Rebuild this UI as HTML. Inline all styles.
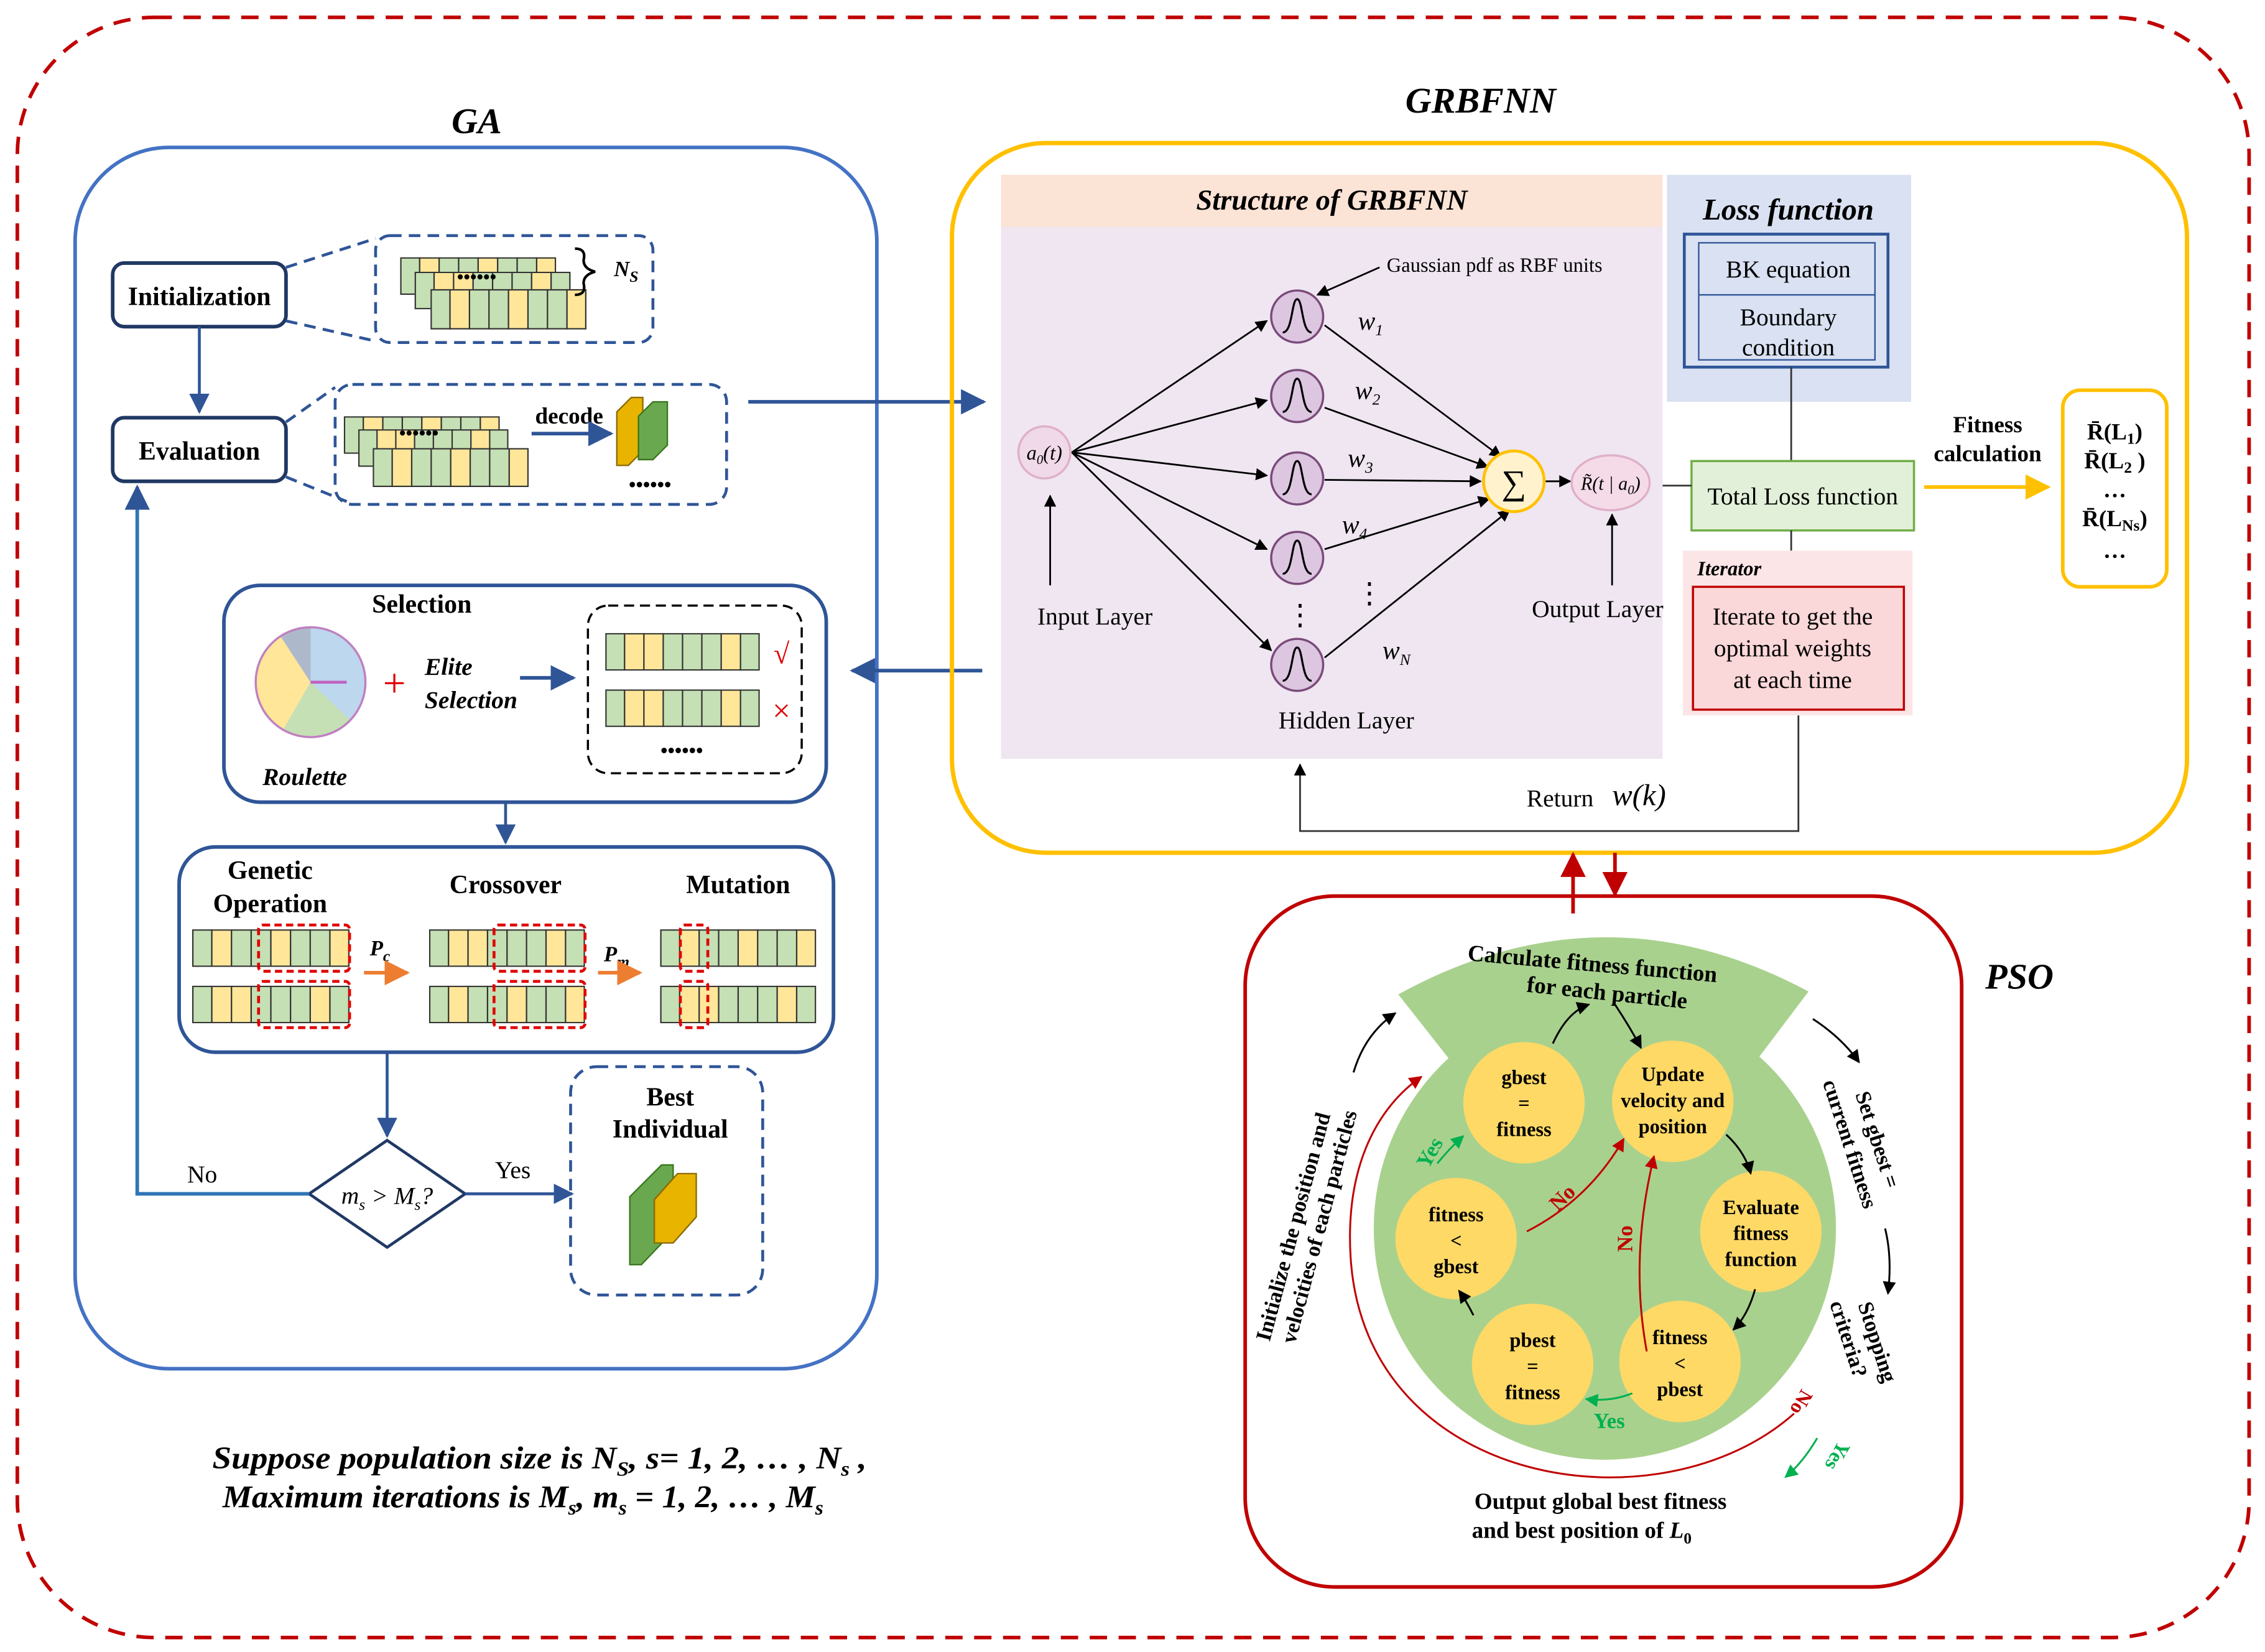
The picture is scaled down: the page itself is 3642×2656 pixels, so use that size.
<!DOCTYPE html>
<html><head><meta charset="utf-8"><style>
html,body{margin:0;padding:0;background:#fff;}
svg{display:block;}
text{font-family:"Liberation Serif",serif;}
</style></head><body>
<svg width="3642" height="2656" viewBox="0 0 1568 1143" preserveAspectRatio="none" xmlns="http://www.w3.org/2000/svg">
<defs>
<marker id="ab" viewBox="0 0 10 10" refX="9" refY="5" markerWidth="7" markerHeight="7" orient="auto"><path d="M0,0 L10,5 L0,10 z" fill="#2f5597"/></marker>
<marker id="ak" viewBox="0 0 10 10" refX="9" refY="5" markerWidth="7" markerHeight="7" orient="auto"><path d="M0,0 L10,5 L0,10 z" fill="#000"/></marker>
<marker id="ar" viewBox="0 0 10 10" refX="9" refY="5" markerWidth="7" markerHeight="7" orient="auto"><path d="M0,0 L10,5 L0,10 z" fill="#c00000"/></marker>
<marker id="ag" viewBox="0 0 10 10" refX="9" refY="5" markerWidth="7" markerHeight="7" orient="auto"><path d="M0,0 L10,5 L0,10 z" fill="#00b050"/></marker>
<marker id="ao" viewBox="0 0 10 10" refX="9" refY="5" markerWidth="7" markerHeight="7" orient="auto"><path d="M0,0 L10,5 L0,10 z" fill="#ed7d31"/></marker>
<marker id="ay" viewBox="0 0 10 10" refX="9" refY="5" markerWidth="7" markerHeight="7" orient="auto"><path d="M0,0 L10,5 L0,10 z" fill="#ffc000"/></marker>
<symbol id="st" viewBox="0 0 112 28" preserveAspectRatio="none">
<rect x="0" y="0" width="14" height="28" fill="#c5e0b4"/><rect x="14" y="0" width="14" height="28" fill="#ffe699"/>
<rect x="28" y="0" width="14" height="28" fill="#c5e0b4"/><rect x="42" y="0" width="14" height="28" fill="#c5e0b4"/>
<rect x="56" y="0" width="14" height="28" fill="#ffe699"/><rect x="70" y="0" width="14" height="28" fill="#c5e0b4"/>
<rect x="84" y="0" width="14" height="28" fill="#c5e0b4"/><rect x="98" y="0" width="14" height="28" fill="#ffe699"/>
<g stroke="#333" stroke-width="1" fill="none"><rect x="0.5" y="0.5" width="111" height="27"/>
<path d="M14,0V28M28,0V28M42,0V28M56,0V28M70,0V28M84,0V28M98,0V28"/></g>
</symbol>
<symbol id="st2" viewBox="0 0 112 28" preserveAspectRatio="none">
<rect x="0" y="0" width="14" height="28" fill="#c5e0b4"/><rect x="14" y="0" width="14" height="28" fill="#ffe699"/>
<rect x="28" y="0" width="14" height="28" fill="#ffe699"/><rect x="42" y="0" width="14" height="28" fill="#c5e0b4"/>
<rect x="56" y="0" width="14" height="28" fill="#c5e0b4"/><rect x="70" y="0" width="14" height="28" fill="#c5e0b4"/>
<rect x="84" y="0" width="14" height="28" fill="#ffe699"/><rect x="98" y="0" width="14" height="28" fill="#c5e0b4"/>
<g stroke="#333" stroke-width="1" fill="none"><rect x="0.5" y="0.5" width="111" height="27"/>
<path d="M14,0V28M28,0V28M42,0V28M56,0V28M70,0V28M84,0V28M98,0V28"/></g>
</symbol>
</defs>

<rect x="12" y="12" width="1545" height="1121" rx="95" fill="none" stroke="#c00000" stroke-width="2.5" stroke-dasharray="12,8"/>

<!-- GA -->
<text x="330" y="92" font-size="25" font-style="italic" font-weight="bold" text-anchor="middle">GA</text>
<rect x="52" y="102" width="555" height="845" rx="65" fill="none" stroke="#4472c4" stroke-width="2.5"/>

<rect x="78" y="182" width="120" height="44" rx="8" fill="#fff" stroke="#203864" stroke-width="2.5"/>
<text x="138" y="211" font-size="18" font-weight="bold" text-anchor="middle">Initialization</text>
<rect x="260" y="163" width="192" height="74" rx="10" fill="none" stroke="#2f5597" stroke-width="2" stroke-dasharray="8,5"/>
<path d="M198,185 L260,165 M198,222 L260,236" stroke="#2f5597" stroke-width="2" stroke-dasharray="8,5"/>
<use href="#st" x="277" y="178" width="108" height="26"/>
<use href="#st2" x="287" y="188" width="108" height="26"/>
<use href="#st" x="298" y="200" width="108" height="28"/>
<text x="330" y="196" font-size="13" font-weight="bold" text-anchor="middle">••••••</text>
<path d="M398,172 q8,0 6,8 q0,6 8,8 q-8,2 -8,8 q2,8 -6,8" fill="none" stroke="#000" stroke-width="1.8"/>
<text x="425" y="191" font-size="15" font-style="italic" font-weight="bold">N<tspan font-size="11" dy="4">S</tspan></text>

<line x1="138" y1="226" x2="138" y2="285" stroke="#2f5597" stroke-width="2" marker-end="url(#ab)"/>
<rect x="78" y="289" width="120" height="44" rx="8" fill="#fff" stroke="#203864" stroke-width="2.5"/>
<text x="138" y="318" font-size="18" font-weight="bold" text-anchor="middle">Evaluation</text>
<rect x="232" y="266" width="271" height="83" rx="12" fill="none" stroke="#2f5597" stroke-width="2" stroke-dasharray="8,5"/>
<path d="M198,292 L232,268 M198,330 L240,347" stroke="#2f5597" stroke-width="2" stroke-dasharray="8,5"/>
<use href="#st" x="238" y="288" width="108" height="26"/>
<use href="#st2" x="248" y="297" width="104" height="26"/>
<use href="#st" x="258" y="310" width="108" height="27"/>
<text x="290" y="304" font-size="13" font-weight="bold" text-anchor="middle">••••••</text>
<text x="394" y="293" font-size="16" font-weight="bold" text-anchor="middle">decode</text>
<line x1="368" y1="300" x2="423" y2="300" stroke="#2f5597" stroke-width="2.5" marker-end="url(#ab)"/>
<polygon points="427,285 437,275 445,275 445,312 435,322 427,322" fill="#e8b400" stroke="#8a6a00" stroke-width="1"/>
<polygon points="442,288 452,278 462,278 462,308 452,318 442,318" fill="#6aa84f" stroke="#38761d" stroke-width="1"/>
<text x="450" y="340" font-size="14" font-weight="bold" text-anchor="middle">••••••</text>

<line x1="518" y1="278" x2="681" y2="278" stroke="#2f5597" stroke-width="2.5" marker-end="url(#ab)"/>
<line x1="680" y1="464" x2="590" y2="464" stroke="#2f5597" stroke-width="2.5" marker-end="url(#ab)"/>

<rect x="155" y="405" width="417" height="150" rx="25" fill="none" stroke="#2f5597" stroke-width="2.5"/>
<text x="292" y="424" font-size="18" font-weight="bold" text-anchor="middle">Selection</text>
<circle cx="215" cy="472" r="38" fill="#bdd7ee"/>
<path d="M215,472 L194,440 A38,38 0 0 0 196,505 Z" fill="#ffe699"/>
<path d="M215,472 L196,505 A38,38 0 0 0 243,499 Z" fill="#c5e0b4"/>
<path d="M215,472 L215,434 A38,38 0 0 0 194,440 Z" fill="#adb9ca"/>
<circle cx="215" cy="472" r="38" fill="none" stroke="#c080c0" stroke-width="1.5"/>
<line x1="215" y1="472" x2="240" y2="472" stroke="#c060c0" stroke-width="2"/>
<text x="273" y="482" font-size="28" fill="#e00000" text-anchor="middle">+</text>
<text x="294" y="467" font-size="17" font-style="italic" font-weight="bold">Elite</text>
<text x="294" y="490" font-size="17" font-style="italic" font-weight="bold">Selection</text>
<line x1="360" y1="469" x2="397" y2="469" stroke="#2f5597" stroke-width="2.5" marker-end="url(#ab)"/>
<text x="211" y="543" font-size="17" font-style="italic" font-weight="bold" text-anchor="middle">Roulette</text>
<rect x="407" y="419" width="148" height="116" rx="14" fill="none" stroke="#000" stroke-width="1.5" stroke-dasharray="7,4"/>
<use href="#st2" x="419" y="438" width="107" height="26"/>
<use href="#st2" x="419" y="477" width="107" height="26"/>
<text x="541" y="459" font-size="20" fill="#e00000" text-anchor="middle">√</text>
<text x="541" y="499" font-size="22" fill="#e00000" text-anchor="middle">×</text>
<text x="472" y="524" font-size="14" font-weight="bold" text-anchor="middle">••••••</text>
<line x1="350" y1="555" x2="350" y2="583" stroke="#2f5597" stroke-width="2" marker-end="url(#ab)"/>

<rect x="124" y="586" width="453" height="142" rx="25" fill="none" stroke="#2f5597" stroke-width="2.5"/>
<text x="187" y="608" font-size="18" font-weight="bold" text-anchor="middle">Genetic</text>
<text x="187" y="631" font-size="18" font-weight="bold" text-anchor="middle">Operation</text>
<text x="350" y="618" font-size="18" font-weight="bold" text-anchor="middle">Crossover</text>
<text x="511" y="618" font-size="18" font-weight="bold" text-anchor="middle">Mutation</text>
<use href="#st" x="133" y="643" width="109" height="26"/>
<use href="#st2" x="133" y="682" width="109" height="26"/>
<rect x="179" y="640" width="63" height="32" rx="3" fill="none" stroke="#e00000" stroke-width="2" stroke-dasharray="5,3"/>
<rect x="179" y="679" width="63" height="32" rx="3" fill="none" stroke="#e00000" stroke-width="2" stroke-dasharray="5,3"/>
<text x="256" y="661" font-size="15" font-style="italic" font-weight="bold">P<tspan font-size="11" dy="4">c</tspan></text>
<line x1="252" y1="673" x2="282" y2="673" stroke="#ed7d31" stroke-width="2.5" marker-end="url(#ao)"/>
<use href="#st2" x="297" y="643" width="108" height="26"/>
<use href="#st" x="297" y="682" width="108" height="26"/>
<rect x="342" y="640" width="63" height="32" rx="3" fill="none" stroke="#e00000" stroke-width="2" stroke-dasharray="5,3"/>
<rect x="342" y="679" width="63" height="32" rx="3" fill="none" stroke="#e00000" stroke-width="2" stroke-dasharray="5,3"/>
<text x="418" y="665" font-size="15" font-style="italic" font-weight="bold">P<tspan font-size="11" dy="4">m</tspan></text>
<line x1="414" y1="673" x2="443" y2="673" stroke="#ed7d31" stroke-width="2.5" marker-end="url(#ao)"/>
<use href="#st" x="457" y="643" width="108" height="26"/>
<use href="#st2" x="457" y="682" width="108" height="26"/>
<rect x="471" y="640" width="19" height="32" rx="3" fill="none" stroke="#e00000" stroke-width="2" stroke-dasharray="5,3"/>
<rect x="471" y="679" width="19" height="32" rx="3" fill="none" stroke="#e00000" stroke-width="2" stroke-dasharray="5,3"/>

<line x1="268" y1="728" x2="268" y2="786" stroke="#2f5597" stroke-width="2" marker-end="url(#ab)"/>
<polygon points="268,789 322,826 268,863 214,826" fill="#fff" stroke="#203864" stroke-width="2"/>
<text x="268" y="833" font-size="17" font-style="italic" text-anchor="middle">m<tspan font-size="11" dy="4">s</tspan><tspan dy="-4"> &gt; M</tspan><tspan font-size="11" dy="4">s</tspan><tspan dy="-4">?</tspan></text>
<polyline points="214,826 95,826 95,337" fill="none" stroke="#2e75b6" stroke-width="2.5" marker-end="url(#ab)"/>
<text x="140" y="818" font-size="17" text-anchor="middle">No</text>
<line x1="322" y1="826" x2="396" y2="826" stroke="#2f5597" stroke-width="2" marker-end="url(#ab)"/>
<text x="355" y="815" font-size="17" text-anchor="middle">Yes</text>
<rect x="395" y="738" width="133" height="158" rx="18" fill="none" stroke="#2f5597" stroke-width="2" stroke-dasharray="8,5"/>
<text x="464" y="765" font-size="18" font-weight="bold" text-anchor="middle">Best</text>
<text x="464" y="787" font-size="18" font-weight="bold" text-anchor="middle">Individual</text>
<polygon points="436,828 458,806 466,806 466,852 444,875 436,875" fill="#6aa84f" stroke="#38761d" stroke-width="1"/>
<polygon points="453,830 469,812 482,812 482,842 466,860 453,860" fill="#e8b400" stroke="#8a6a00" stroke-width="1"/>

<text x="147" y="1016" font-size="22" font-style="italic" font-weight="bold" textLength="453" lengthAdjust="spacingAndGlyphs">Suppose population size is N<tspan font-size="14" dy="5">S</tspan><tspan dy="-5">, s= 1, 2, … , N</tspan><tspan font-size="14" dy="5">s</tspan><tspan dy="-5"> ,</tspan></text>
<text x="154" y="1043" font-size="22" font-style="italic" font-weight="bold" textLength="416" lengthAdjust="spacingAndGlyphs">Maximum iterations is M<tspan font-size="14" dy="5">s</tspan><tspan dy="-5">, m</tspan><tspan font-size="14" dy="5">s</tspan><tspan dy="-5"> = 1, 2, … , M</tspan><tspan font-size="14" dy="5">s</tspan></text>

<!-- GRBFNN -->
<text x="1025" y="78" font-size="25" font-style="italic" font-weight="bold" text-anchor="middle">GRBFNN</text>
<rect x="659" y="99" width="855" height="491" rx="65" fill="none" stroke="#ffc000" stroke-width="3"/>
<rect x="693" y="121" width="458" height="404" fill="#efe6f1"/>
<rect x="693" y="121" width="458" height="36" fill="#fbe3d6"/>
<text x="922" y="145" font-size="20" font-style="italic" font-weight="bold" text-anchor="middle">Structure of GRBFNN</text>
<rect x="1154" y="121" width="169" height="157" fill="#d9e1f2"/>
<text x="1238" y="152" font-size="21" font-style="italic" font-weight="bold" text-anchor="middle">Loss function</text>
<rect x="1166" y="162" width="141" height="92" fill="none" stroke="#2f5597" stroke-width="2"/>
<rect x="1176" y="168" width="122" height="81" fill="none" stroke="#2f5597" stroke-width="1"/>
<line x1="1176" y1="204" x2="1298" y2="204" stroke="#2f5597" stroke-width="1"/>
<text x="1238" y="192" font-size="17" text-anchor="middle">BK equation</text>
<text x="1238" y="225" font-size="17" text-anchor="middle">Boundary</text>
<text x="1238" y="246" font-size="17" text-anchor="middle">condition</text>
<line x1="1240" y1="254" x2="1240" y2="319" stroke="#333" stroke-width="1.2"/>
<rect x="1171" y="319" width="154" height="48" fill="#e2f0d9" stroke="#70ad47" stroke-width="1.5"/>
<text x="1248" y="349" font-size="17" text-anchor="middle">Total Loss function</text>
<line x1="1151" y1="336" x2="1171" y2="336" stroke="#333" stroke-width="1.2"/>
<line x1="1240" y1="367" x2="1240" y2="381" stroke="#333" stroke-width="1.2"/>
<rect x="1165" y="381" width="159" height="114" fill="#fbe5e6"/>
<text x="1175" y="398" font-size="14" font-style="italic" font-weight="bold">Iterator</text>
<rect x="1172" y="406" width="146" height="85" fill="#fad7d8" stroke="#c00000" stroke-width="1.5"/>
<text x="1241" y="432" font-size="17" text-anchor="middle">Iterate to get the</text>
<text x="1241" y="454" font-size="17" text-anchor="middle">optimal weights</text>
<text x="1241" y="476" font-size="17" text-anchor="middle">at each time</text>
<polyline points="1245,495 1245,575 900,575 900,529" fill="none" stroke="#333" stroke-width="1.2" marker-end="url(#ak)"/>
<text x="1080" y="558" font-size="17" text-anchor="middle">Return</text>
<text x="1116" y="557" font-size="21" font-style="italic">w(k)</text>

<text x="1376" y="299" font-size="16" font-weight="bold" text-anchor="middle">Fitness</text>
<text x="1376" y="319" font-size="16" font-weight="bold" text-anchor="middle">calculation</text>
<line x1="1332" y1="337" x2="1418" y2="337" stroke="#ffc000" stroke-width="2.5" marker-end="url(#ay)"/>
<rect x="1428" y="270" width="72" height="136" rx="12" fill="none" stroke="#ffc000" stroke-width="2.5"/>
<text x="1464" y="304" font-size="16" font-weight="bold" text-anchor="middle">R̄(L<tspan font-size="11" dy="3">1</tspan><tspan dy="-3">)</tspan></text>
<text x="1464" y="324" font-size="16" font-weight="bold" text-anchor="middle">R̄(L<tspan font-size="11" dy="3">2</tspan><tspan dy="-3"> )</tspan></text>
<text x="1464" y="344" font-size="16" font-weight="bold" text-anchor="middle">…</text>
<text x="1464" y="364" font-size="16" font-weight="bold" text-anchor="middle">R̄(L<tspan font-size="11" dy="3">Ns</tspan><tspan dy="-3">)</tspan></text>
<text x="1464" y="386" font-size="16" font-weight="bold" text-anchor="middle">…</text>

<g stroke="#000" stroke-width="1.2" fill="none">
<line x1="742" y1="313" x2="877" y2="222" marker-end="url(#ak)"/>
<line x1="742" y1="313" x2="877" y2="277" marker-end="url(#ak)"/>
<line x1="742" y1="313" x2="877" y2="329" marker-end="url(#ak)"/>
<line x1="742" y1="313" x2="877" y2="380" marker-end="url(#ak)"/>
<line x1="742" y1="313" x2="880" y2="450" marker-end="url(#ak)"/>
<line x1="917" y1="225" x2="1039" y2="316" marker-end="url(#ak)"/>
<line x1="917" y1="282" x2="1030" y2="323" marker-end="url(#ak)"/>
<line x1="917" y1="332" x2="1025" y2="333" marker-end="url(#ak)"/>
<line x1="917" y1="380" x2="1031" y2="345" marker-end="url(#ak)"/>
<line x1="917" y1="455" x2="1045" y2="353" marker-end="url(#ak)"/>
<line x1="1070" y1="333" x2="1087" y2="333" marker-end="url(#ak)"/>
<line x1="727" y1="405" x2="727" y2="343" marker-end="url(#ak)"/>
<line x1="1116" y1="405" x2="1116" y2="356" marker-end="url(#ak)"/>
<line x1="955" y1="185" x2="912" y2="204" marker-end="url(#ak)"/>
</g>
<ellipse cx="723" cy="313" rx="18" ry="18" fill="#f0d9e8" stroke="#e0b0c8" stroke-width="1.5"/>
<text x="723" y="318" font-size="14" font-style="italic" text-anchor="middle">a<tspan font-size="9" dy="3">0</tspan><tspan dy="-3">(t)</tspan></text>
<g fill="#dcc6e0" stroke="#7a4a7a" stroke-width="1.5">
<circle cx="898" cy="219" r="18"/><circle cx="898" cy="274" r="18"/><circle cx="898" cy="331" r="18"/><circle cx="898" cy="386" r="18"/><circle cx="898" cy="460" r="18"/>
</g>
<g fill="none" stroke="#000" stroke-width="1.4">
<path d="M888,230 C895,230 894,207 898,207 C902,207 901,230 908,230"/>
<path d="M888,285 C895,285 894,262 898,262 C902,262 901,285 908,285"/>
<path d="M888,342 C895,342 894,319 898,319 C902,319 901,342 908,342"/>
<path d="M888,397 C895,397 894,374 898,374 C902,374 901,397 908,397"/>
<path d="M888,471 C895,471 894,448 898,448 C902,448 901,471 908,471"/>
</g>
<circle cx="1048" cy="333" r="21" fill="#fff2cc" stroke="#ffc000" stroke-width="2"/>
<text x="1048" y="342" font-size="24" text-anchor="middle">∑</text>
<ellipse cx="1115" cy="334" rx="27" ry="19" fill="#f5dbe8" stroke="#e0b0c8" stroke-width="1.5"/>
<text x="1115" y="339" font-size="13" font-style="italic" text-anchor="middle">R̃(t | a<tspan font-size="9" dy="3">0</tspan><tspan dy="-3">)</tspan></text>
<text x="960" y="188" font-size="14">Gaussian pdf as RBF units</text>
<g font-size="18" font-style="italic">
<text x="940" y="228">w<tspan font-size="11" dy="4">1</tspan></text>
<text x="938" y="276">w<tspan font-size="11" dy="4">2</tspan></text>
<text x="933" y="323">w<tspan font-size="11" dy="4">3</tspan></text>
<text x="929" y="369">w<tspan font-size="11" dy="4">4</tspan></text>
<text x="957" y="456">w<tspan font-size="11" dy="4">N</tspan></text>
</g>
<text x="900" y="432" font-size="20" text-anchor="middle">⋮</text>
<text x="948" y="417" font-size="20" text-anchor="middle">⋮</text>
<text x="758" y="432" font-size="17" text-anchor="middle">Input Layer</text>
<text x="1106" y="427" font-size="17" text-anchor="middle">Output Layer</text>
<text x="932" y="504" font-size="17" text-anchor="middle">Hidden Layer</text>

<line x1="1089" y1="632" x2="1089" y2="591" stroke="#c00000" stroke-width="2.5" marker-end="url(#ar)"/>
<line x1="1118" y1="590" x2="1118" y2="619" stroke="#c00000" stroke-width="2.5" marker-end="url(#ar)"/>

<!-- PSO -->
<rect x="862" y="620" width="496" height="478" rx="62" fill="none" stroke="#c00000" stroke-width="2.5"/>
<text x="1398" y="684" font-size="25" font-style="italic" font-weight="bold" text-anchor="middle">PSO</text>
<path d="M968,688 Q1110,610 1252,686 L1215,735 L1005,735 Z" fill="#a9d18e"/>
<circle cx="1111" cy="850" r="160" fill="#a9d18e"/>
<text x="1102" y="672" font-size="16" font-weight="bold" text-anchor="middle" transform="rotate(5 1102 672)">Calculate fitness function</text>
<text x="1112" y="692" font-size="16" font-weight="bold" text-anchor="middle" transform="rotate(6 1112 692)">for each particle</text>
<g fill="#ffd966">
<circle cx="1055" cy="763" r="42"/><circle cx="1158" cy="762" r="42"/><circle cx="1219" cy="852" r="42"/>
<circle cx="1163" cy="942" r="42"/><circle cx="1061" cy="944" r="42"/><circle cx="1008" cy="857" r="42"/>
</g>
<g font-size="14" font-weight="bold" text-anchor="middle">
<text x="1055" y="750">gbest</text><text x="1055" y="768">=</text><text x="1055" y="786">fitness</text>
<text x="1158" y="748">Update</text><text x="1158" y="766">velocity and</text><text x="1158" y="784">position</text>
<text x="1219" y="840">Evaluate</text><text x="1219" y="858">fitness</text><text x="1219" y="876">function</text>
<text x="1163" y="930">fitness</text><text x="1163" y="948">&lt;</text><text x="1163" y="966">pbest</text>
<text x="1061" y="932">pbest</text><text x="1061" y="950">=</text><text x="1061" y="968">fitness</text>
<text x="1008" y="845">fitness</text><text x="1008" y="863">&lt;</text><text x="1008" y="881">gbest</text>
</g>
<g fill="none" stroke="#000" stroke-width="1.3">
<path d="M1075,722 Q1085,700 1100,695" marker-end="url(#ak)"/>
<path d="M1118,695 Q1128,710 1136,725" marker-end="url(#ak)"/>
<path d="M1195,785 Q1208,797 1212,812" marker-end="url(#ak)"/>
<path d="M1215,892 Q1210,910 1200,920" marker-end="url(#ak)"/>
<path d="M1020,910 Q1015,900 1010,893" marker-end="url(#ak)"/>
<path d="M937,742 Q945,715 966,701" marker-end="url(#ak)"/>
<path d="M1255,705 Q1275,718 1287,735" marker-end="url(#ak)"/>
<path d="M1305,850 Q1310,870 1307,895" marker-end="url(#ak)"/>
</g>
<g fill="none" stroke="#c00000" stroke-width="1.3">
<path d="M1057,852 Q1100,830 1124,788" marker-end="url(#ar)"/>
<path d="M1140,935 Q1128,870 1145,800" marker-end="url(#ar)"/>
<path d="M1242,978 C1150,1060 945,1030 935,870 C931,805 955,765 984,745" marker-end="url(#ar)"/>
</g>
<g fill="none" stroke="#00b050" stroke-width="1.3">
<path d="M995,805 Q1003,795 1013,786" marker-end="url(#ag)"/>
<path d="M1130,964 Q1115,970 1098,968" marker-end="url(#ag)"/>
<path d="M1258,995 Q1248,1012 1236,1022" marker-end="url(#ag)"/>
</g>
<text x="1085" y="832" font-size="15" font-weight="bold" fill="#c00000" transform="rotate(-45 1085 832)" text-anchor="middle">No</text>
<text x="1130" y="857" font-size="15" font-weight="bold" fill="#c00000" transform="rotate(-90 1130 857)" text-anchor="middle">No</text>
<text x="994" y="800" font-size="15" font-weight="bold" fill="#00b050" transform="rotate(-60 994 800)" text-anchor="middle">Yes</text>
<text x="1114" y="988" font-size="15" font-weight="bold" fill="#00b050" text-anchor="middle">Yes</text>
<text x="1243" y="968" font-size="14" font-weight="bold" fill="#c00000" transform="rotate(120 1243 968)" text-anchor="middle">No</text>
<text x="1268" y="1005" font-size="14" font-weight="bold" fill="#00b050" transform="rotate(120 1268 1005)" text-anchor="middle">Yes</text>
<text x="900" y="850" font-size="15" font-weight="bold" text-anchor="middle" transform="rotate(-75 900 850)">Initialize the position and</text>
<text x="918" y="850" font-size="15" font-weight="bold" text-anchor="middle" transform="rotate(-75 918 850)">velocities of each particles</text>
<text x="1295" y="790" font-size="15" font-weight="bold" text-anchor="middle" transform="rotate(72 1295 790)">Set gbest =</text>
<text x="1276" y="793" font-size="15" font-weight="bold" text-anchor="middle" transform="rotate(72 1276 793)">current fitness</text>
<text x="1295" y="930" font-size="15" font-weight="bold" text-anchor="middle" transform="rotate(72 1295 930)">Stopping</text>
<text x="1275" y="928" font-size="15" font-weight="bold" text-anchor="middle" transform="rotate(72 1275 928)">criteria?</text>
<text x="1108" y="1044" font-size="16" font-weight="bold" text-anchor="middle">Output global best fitness</text>
<text x="1095" y="1064" font-size="16" font-weight="bold" text-anchor="middle">and best position of <tspan font-style="italic">L</tspan><tspan font-size="11" dy="4">0</tspan></text>
</svg>
</body></html>
